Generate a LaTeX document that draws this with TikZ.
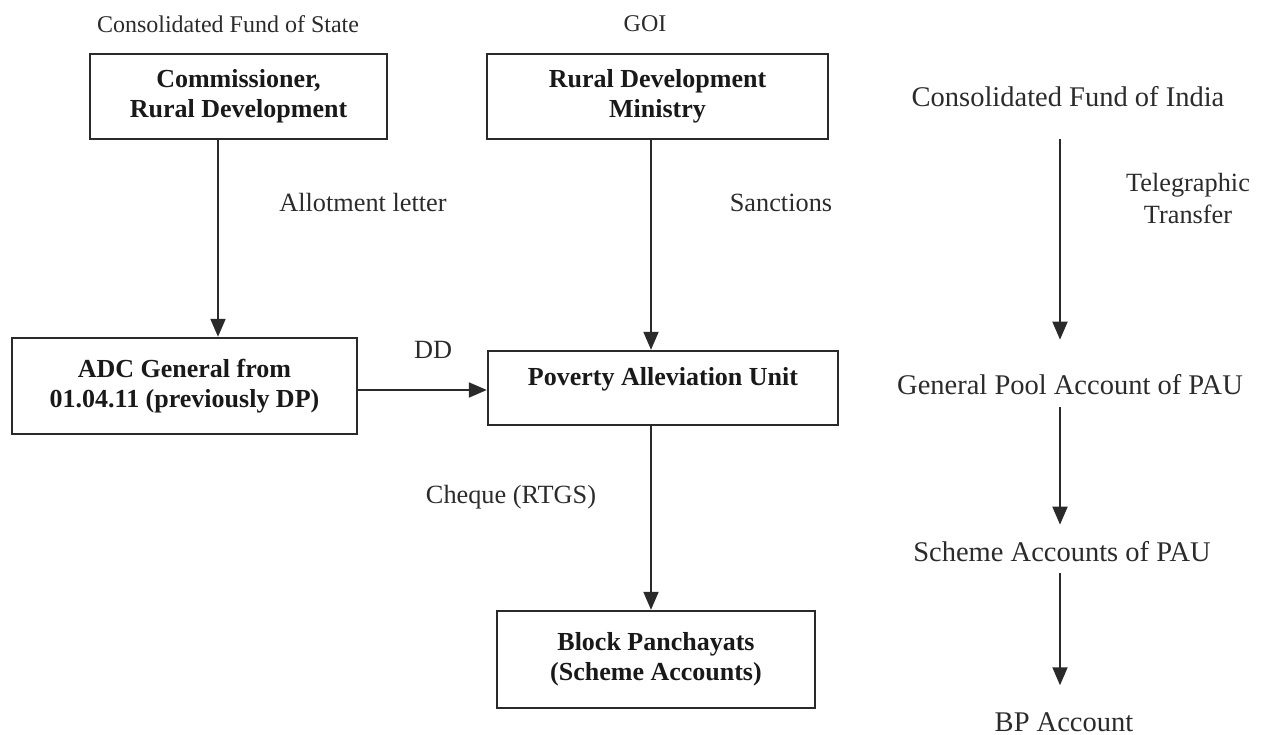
\documentclass[tikz,border=0pt]{standalone}
\usepackage{fontspec}
\setmainfont{Liberation Serif}
\usetikzlibrary{arrows.meta}
\definecolor{ln}{HTML}{2A2A2A}
\definecolor{tx}{HTML}{2B2B2B}
\begin{document}
\begin{tikzpicture}[x=1pt,y=-1pt,
  box/.style={draw=ln, line width=2.4pt, inner sep=0pt, align=center,
    font=\fontsize{26}{30}\selectfont\bfseries, text=black!90},
  lab/.style={font=\fontsize{26.3}{32}\selectfont, text=tx, inner sep=0pt},
  toplab/.style={font=\fontsize{24}{28}\selectfont, text=tx, inner sep=0pt},
  col/.style={font=\fontsize{28.5}{32}\selectfont, text=tx, inner sep=0pt},
  arr/.style={draw=ln, line width=2pt, -{Triangle[length=18pt,width=15pt]}}]
\useasboundingbox (0,0) rectangle (1272,735);

% boxes
\node[box, minimum width=297pt, minimum height=85pt] (comm) at (238.5,96.5) {Commissioner,\\Rural Development};
\node[box, minimum width=341pt, minimum height=85pt] (min) at (657.5,96.5) {Rural Development\\Ministry};
\node[box, minimum width=345pt, minimum height=96pt] (adc) at (184.5,386) {ADC General from\\01.04.11 (previously DP)};
\node[box, minimum width=350pt, minimum height=74pt, text height=19pt, text depth=25pt] (pau) at (663,388) {Poverty Alleviation Unit};
\node[box, minimum width=318pt, minimum height=97pt] (blk) at (656,659.5) {Block Panchayats\\(Scheme Accounts)};

% labels
\node[toplab] (cfs) at (228,24) {Consolidated Fund of State};
\node[toplab] (goi) at (645,24) {GOI};
\node[lab] (allot) at (363,203) {Allotment letter};
\node[lab] (sanc) at (781,203) {Sanctions};
\node[lab] (dd) at (433,350) {DD};
\node[lab] (chq) at (511,497) {Cheque (RTGS)};
\node[lab, align=center] (tt) at (1188,199) {Telegraphic\\Transfer};

% right column
\node[col] (cfi) at (1068,97) {Consolidated Fund of India};
\node[col] (gpa) at (1070,385) {General Pool Account of PAU};
\node[col] (sap) at (1062,552) {Scheme Accounts of PAU};
\node[col] (bpa) at (1064,722) {BP Account};

% connectors
\coordinate (xa) at (218,0);
\coordinate (xb) at (651,0);
\coordinate (xc) at (1060,0);
\coordinate (ya) at (0,390);
\draw[arr] (comm.south -| xa) -- (adc.north -| xa);
\draw[arr] (min.south -| xb) -- (pau.north -| xb);
\draw[arr] (adc.east |- ya) -- (pau.west |- ya);
\draw[arr] (pau.south -| xb) -- (blk.north -| xb);
\draw[arr, shorten <=32pt, shorten >=35pt] (cfi.south -| xc) -- (gpa.north -| xc);
\draw[arr, shorten <=12pt, shorten >=17pt] (gpa.south -| xc) -- (sap.north -| xc);
\draw[arr, shorten <=11pt, shorten >=27pt] (sap.south -| xc) -- (bpa.north -| xc);
\end{tikzpicture}
\end{document}
